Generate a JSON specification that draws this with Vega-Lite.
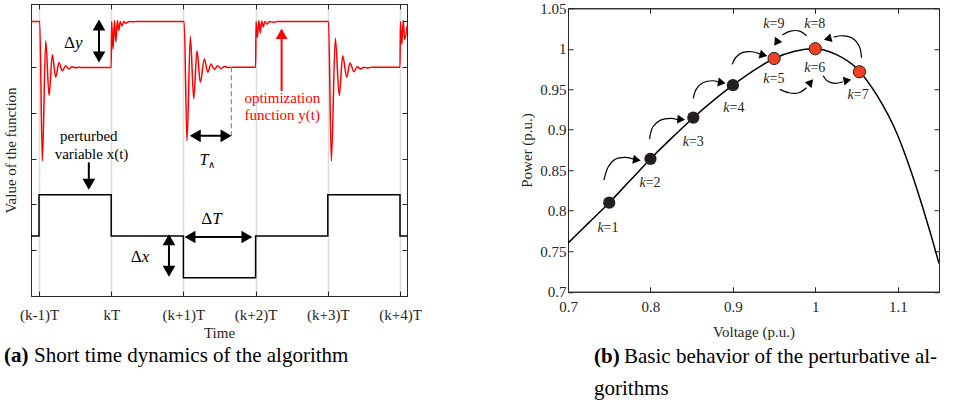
{
 "$schema": "https://vega.github.io/schema/vega-lite/v6.json",
 "padding": {"left": 3, "top": 0, "right": 5, "bottom": 5},
 "background": "white",
 "spacing": 161,
 "bounds": "flush",
 "center": true,
 "config": {
  "font": "Liberation Serif",
  "view": {"stroke": "#262626", "strokeWidth": 1},
  "axis": {"domainColor": "#262626", "tickColor": "#262626", "labelColor": "#262626", "titleColor": "#262626", "labelFontSize": 15, "titleFontSize": 15, "titleFontWeight": "normal", "labelFont": "Liberation Serif", "titleFont": "Liberation Serif", "tickSize": -5, "grid": false, "domainWidth": 1, "labelFlush": false}
 },
 "datasets": {
  "redL": [
   {"t": -0.111, "v": 6.0}, {"t": 0.0, "v": 6.0}, {"t": 0.01, "v": 6.0}, {"t": 0.046, "v": 2.95}, {"t": 0.093, "v": 5.58}, {"t": 0.139, "v": 4.38}, {"t": 0.184, "v": 5.27}, {"t": 0.231, "v": 4.78}, {"t": 0.277, "v": 5.10}, {"t": 0.323, "v": 4.92}, {"t": 0.37, "v": 5.03}, {"t": 0.416, "v": 4.96}, {"t": 0.46, "v": 5.01}, {"t": 0.505, "v": 4.985}, {"t": 0.55, "v": 5.0}, {"t": 0.6, "v": 4.99}, {"t": 1.0, "v": 4.99},
   {"t": 1.006, "v": 6.0}, {"t": 1.025, "v": 5.4}, {"t": 1.045, "v": 6.02}, {"t": 1.065, "v": 5.55}, {"t": 1.085, "v": 6.02}, {"t": 1.105, "v": 5.8}, {"t": 1.125, "v": 6.0}, {"t": 1.15, "v": 5.9}, {"t": 1.175, "v": 6.0}, {"t": 1.2, "v": 5.96}, {"t": 1.25, "v": 6.0}, {"t": 1.3, "v": 5.99}, {"t": 1.35, "v": 6.0}, {"t": 2.01, "v": 6.0},
   {"t": 2.05, "v": 3.39}, {"t": 2.096, "v": 5.67}, {"t": 2.143, "v": 4.31}, {"t": 2.188, "v": 5.36}, {"t": 2.234, "v": 4.67}, {"t": 2.29, "v": 5.18}, {"t": 2.337, "v": 4.89}, {"t": 2.382, "v": 5.07}, {"t": 2.428, "v": 4.95}, {"t": 2.475, "v": 5.03}, {"t": 2.52, "v": 4.97}, {"t": 2.57, "v": 5.015}, {"t": 2.62, "v": 4.99}, {"t": 2.665, "v": 5.0}, {"t": 3.0, "v": 5.0},
   {"t": 3.006, "v": 6.0}, {"t": 3.025, "v": 5.65}, {"t": 3.045, "v": 6.02}, {"t": 3.065, "v": 5.75}, {"t": 3.085, "v": 6.01}, {"t": 3.105, "v": 5.88}, {"t": 3.13, "v": 6.0}, {"t": 3.16, "v": 5.94}, {"t": 3.19, "v": 6.0}, {"t": 3.25, "v": 5.98}, {"t": 3.3, "v": 6.0}, {"t": 4.01, "v": 6.0},
   {"t": 4.049, "v": 2.95}, {"t": 4.104, "v": 5.63}, {"t": 4.159, "v": 4.38}, {"t": 4.206, "v": 5.25}, {"t": 4.262, "v": 4.78}, {"t": 4.307, "v": 5.09}, {"t": 4.363, "v": 4.90}, {"t": 4.407, "v": 5.01}, {"t": 4.455, "v": 4.96}, {"t": 4.5, "v": 5.0}, {"t": 4.55, "v": 4.98}, {"t": 4.6, "v": 5.0}, {"t": 5.0, "v": 5.0},
   {"t": 5.006, "v": 6.0}, {"t": 5.025, "v": 5.5}, {"t": 5.045, "v": 6.02}, {"t": 5.065, "v": 5.6}, {"t": 5.097, "v": 5.9}
  ],
  "blackL": [
   {"t": -0.111, "v": 1.31}, {"t": 0, "v": 2.21}, {"t": 1, "v": 1.31}, {"t": 2, "v": 0.40}, {"t": 3, "v": 1.31}, {"t": 4, "v": 2.21}, {"t": 5, "v": 1.31}, {"t": 5.097, "v": 1.31}
  ],
  "dashL": [{"t": 2.665, "v": 5.0, "v2": 3.44}],
  "shaftsL": [
   {"name": "dy", "t": 0.831, "v": 5.14, "t2": 0.831, "v2": 6.0},
   {"name": "dx", "t": 1.80, "v": 0.46, "t2": 1.80, "v2": 1.31},
   {"name": "dT", "t": 2.04, "v": 1.29, "t2": 2.93, "v2": 1.29},
   {"name": "Tc", "t": 2.115, "v": 3.5, "t2": 2.641, "v2": 3.5},
   {"name": "pert", "t": 0.69, "v": 2.36, "t2": 0.69, "v2": 2.92},
   {"name": "opt", "t": 3.36, "v": 4.48, "t2": 3.36, "v2": 5.81}
  ],
  "headsL": [
   {"name": "dy", "t": 0.831, "v": 5.88, "heading": 0},
   {"name": "dy", "t": 0.831, "v": 5.26, "heading": 180},
   {"name": "dx", "t": 1.80, "v": 1.19, "heading": 0},
   {"name": "dx", "t": 1.80, "v": 0.58, "heading": 180},
   {"name": "dT", "t": 2.116, "v": 1.29, "heading": 270},
   {"name": "dT", "t": 2.854, "v": 1.29, "heading": 90},
   {"name": "Tc", "t": 2.19, "v": 3.5, "heading": 270},
   {"name": "Tc", "t": 2.565, "v": 3.5, "heading": 90},
   {"name": "pert", "t": 0.69, "v": 2.48, "heading": 180},
   {"name": "opt", "t": 3.36, "v": 5.69, "heading": 0}
  ],
  "deltaL": [
   {"t": 0.499, "v": 5.52, "ch": "y"},
   {"t": 1.422, "v": 0.86, "ch": "x"},
   {"t": 2.40, "v": 1.69, "ch": "T"}
  ],
  "textL": [
   {"t": 0.69, "v": 3.5, "txt": "perturbed"},
   {"t": 0.727, "v": 3.11, "txt": "variable x(t)"}
  ],
  "textRed": [
   {"t": 3.37, "v": 4.32, "txt": "optimization"},
   {"t": 3.37, "v": 3.95, "txt": "function y(t)"}
  ],
  "tcL": [{"t": 2.285, "v": 2.97, "t2": 2.385, "v2": 2.87}],
  "capA": [{"t": -0.485, "v": -1.31, "t2": -0.069, "bold": "(a)", "txt": "Short time dynamics of the algorithm"}],
  "curve": [
   {"V": 0.70, "P": 0.760}, {"V": 0.725, "P": 0.785}, {"V": 0.75, "P": 0.810}, {"V": 0.775, "P": 0.837}, {"V": 0.80, "P": 0.864}, {"V": 0.825, "P": 0.889}, {"V": 0.85, "P": 0.913}, {"V": 0.875, "P": 0.935}, {"V": 0.90, "P": 0.955}, {"V": 0.925, "P": 0.973}, {"V": 0.95, "P": 0.988}, {"V": 0.975, "P": 0.997}, {"V": 1.00, "P": 1.000}, {"V": 1.025, "P": 0.993}, {"V": 1.05, "P": 0.976}, {"V": 1.075, "P": 0.942}, {"V": 1.10, "P": 0.893}, {"V": 1.115, "P": 0.852}, {"V": 1.13, "P": 0.805}, {"V": 1.14, "P": 0.771}, {"V": 1.15, "P": 0.735}
  ],
  "pts": [
   {"k": 1, "V": 0.75, "P": 0.81, "grp": "black"},
   {"k": 2, "V": 0.80, "P": 0.864, "grp": "black"},
   {"k": 3, "V": 0.852, "P": 0.915, "grp": "black"},
   {"k": 4, "V": 0.90, "P": 0.955, "grp": "black"},
   {"k": 5, "V": 0.95, "P": 0.988, "grp": "red"},
   {"k": 6, "V": 1.0, "P": 1.0, "grp": "red"},
   {"k": 7, "V": 1.0535, "P": 0.9716, "grp": "red"}
  ],
  "klab": [
   {"V": 0.7432, "P": 0.7782, "num": "=1"},
   {"V": 0.7942, "P": 0.8337, "num": "=2"},
   {"V": 0.8467, "P": 0.8852, "num": "=3"},
   {"V": 0.896, "P": 0.9263, "num": "=4"},
   {"V": 0.9445, "P": 0.9626, "num": "=5"},
   {"V": 0.9941, "P": 0.9757, "num": "=6"},
   {"V": 1.0467, "P": 0.9428, "num": "=7"},
   {"V": 0.9941, "P": 1.030, "num": "=8"},
   {"V": 0.9445, "P": 1.030, "num": "=9"}
  ],
  "arcs": [
   {"id": 1, "i": 0, "V": 0.7436, "P": 0.8379}, {"id": 1, "i": 1, "V": 0.7489, "P": 0.8543}, {"id": 1, "i": 2, "V": 0.7578, "P": 0.8638}, {"id": 1, "i": 3, "V": 0.7699, "P": 0.8658}, {"id": 1, "i": 4, "V": 0.78, "P": 0.8638},
   {"id": 2, "i": 0, "V": 0.799, "P": 0.8885}, {"id": 2, "i": 1, "V": 0.803, "P": 0.9037}, {"id": 2, "i": 2, "V": 0.8123, "P": 0.9119}, {"id": 2, "i": 3, "V": 0.8244, "P": 0.9140}, {"id": 2, "i": 4, "V": 0.8337, "P": 0.9123},
   {"id": 3, "i": 0, "V": 0.8519, "P": 0.9387}, {"id": 3, "i": 1, "V": 0.8556, "P": 0.9502}, {"id": 3, "i": 2, "V": 0.8636, "P": 0.9580}, {"id": 3, "i": 3, "V": 0.875, "P": 0.9605}, {"id": 3, "i": 4, "V": 0.883, "P": 0.9588},
   {"id": 4, "i": 0, "V": 0.8992, "P": 0.9807}, {"id": 4, "i": 1, "V": 0.9032, "P": 0.9889}, {"id": 4, "i": 2, "V": 0.9121, "P": 0.9955}, {"id": 4, "i": 3, "V": 0.9234, "P": 0.9963}, {"id": 4, "i": 4, "V": 0.9335, "P": 0.9934},
   {"id": 5, "i": 0, "V": 0.957, "P": 0.9498}, {"id": 5, "i": 1, "V": 0.9679, "P": 0.9457}, {"id": 5, "i": 2, "V": 0.98, "P": 0.9457}, {"id": 5, "i": 3, "V": 0.9893, "P": 0.9519},
   {"id": 6, "i": 0, "V": 1.0095, "P": 0.9667}, {"id": 6, "i": 1, "V": 1.0143, "P": 0.9605}, {"id": 6, "i": 2, "V": 1.0236, "P": 0.9572}, {"id": 6, "i": 3, "V": 1.0333, "P": 0.9593},
   {"id": 7, "i": 0, "V": 1.056, "P": 0.9889}, {"id": 7, "i": 1, "V": 1.0535, "P": 1.0025}, {"id": 7, "i": 2, "V": 1.0455, "P": 1.0128}, {"id": 7, "i": 3, "V": 1.0333, "P": 1.0160}, {"id": 7, "i": 4, "V": 1.0224, "P": 1.0144},
   {"id": 8, "i": 0, "V": 0.9893, "P": 1.0160}, {"id": 8, "i": 1, "V": 0.9808, "P": 1.0218}, {"id": 8, "i": 2, "V": 0.9699, "P": 1.0218}, {"id": 8, "i": 3, "V": 0.9598, "P": 1.0169}
  ],
  "headsR": [
   {"V": 0.782, "P": 0.863, "heading": 100},
   {"V": 0.8358, "P": 0.9128, "heading": 95},
   {"V": 0.885, "P": 0.9584, "heading": 100},
   {"V": 0.9356, "P": 0.9926, "heading": 105},
   {"V": 0.9933, "P": 0.9576, "heading": 40},
   {"V": 1.0374, "P": 0.9605, "heading": 80},
   {"V": 1.0164, "P": 1.0128, "heading": 255},
   {"V": 0.9537, "P": 1.009, "heading": 215}
  ],
  "capB": [
   {"V": 0.7315, "P": 0.6198, "V2": 0.7679, "bold": "(b)", "txt": "Basic behavior of the perturbative al-"},
   {"V": 0.7315, "P": 0.5803, "V2": 0.7315, "bold": "", "txt": "gorithms"}
  ]
 },
 "hconcat": [
  {
   "width": 376, "height": 292,
   "resolve": {"axis": {"x": "independent", "y": "independent"}},
   "layer": [
    {
     "layer": [
      {
       "data": {"name": "blackL"},
       "mark": {"type": "line", "interpolate": "step-after", "color": "#000000", "strokeWidth": 1.5},
       "encoding": {
        "x": {"field": "t", "type": "quantitative", "scale": {"domain": [-0.111, 5.097], "nice": false, "zero": false},
              "axis": {"values": [0, 1, 2, 3, 4, 5], "labelExpr": "['(k-1)T','kT','(k+1)T','(k+2)T','(k+3)T','(k+4)T'][datum.value]", "grid": true, "gridColor": "#dcdcdc", "gridWidth": 1.5, "title": "Time", "labelPadding": 16, "titlePadding": 3}},
        "y": {"field": "v", "type": "quantitative", "scale": {"domain": [0, 6.38], "nice": false, "zero": false},
              "axis": {"values": [0, 1, 2, 3, 4, 5, 6], "labels": false, "title": "Value of the function", "titlePadding": 12}}
       }
      },
      {
       "data": {"name": "redL"},
       "mark": {"type": "line", "interpolate": "monotone", "color": "#ff0000", "strokeWidth": 1.5},
       "encoding": {"x": {"field": "t", "type": "quantitative"}, "y": {"field": "v", "type": "quantitative"}}
      },
      {
       "data": {"name": "dashL"},
       "mark": {"type": "rule", "color": "#8c8c8c", "strokeDash": [5, 3], "strokeWidth": 1.2},
       "encoding": {"x": {"field": "t", "type": "quantitative"}, "y": {"field": "v", "type": "quantitative"}, "y2": {"field": "v2"}}
      },
      {
       "data": {"name": "shaftsL"},
       "transform": [{"filter": "datum.name != 'opt'"}],
       "mark": {"type": "rule", "color": "#000000", "strokeWidth": 2},
       "encoding": {"x": {"field": "t", "type": "quantitative"}, "y": {"field": "v", "type": "quantitative"}, "x2": {"field": "t2"}, "y2": {"field": "v2"}}
      },
      {
       "data": {"name": "shaftsL"},
       "transform": [{"filter": "datum.name == 'opt'"}],
       "mark": {"type": "rule", "color": "#ff0000", "strokeWidth": 2},
       "encoding": {"x": {"field": "t", "type": "quantitative"}, "y": {"field": "v", "type": "quantitative"}, "x2": {"field": "t2"}, "y2": {"field": "v2"}}
      },
      {
       "data": {"name": "headsL"},
       "transform": [{"filter": "datum.name != 'opt'"}],
       "mark": {"type": "point", "shape": "triangle", "filled": true, "size": 160, "color": "#000000", "opacity": 1},
       "encoding": {"x": {"field": "t", "type": "quantitative"}, "y": {"field": "v", "type": "quantitative"}, "angle": {"field": "heading", "type": "quantitative", "scale": null}}
      },
      {
       "data": {"name": "headsL"},
       "transform": [{"filter": "datum.name == 'opt'"}],
       "mark": {"type": "point", "shape": "triangle", "filled": true, "size": 140, "color": "#ff0000", "opacity": 1},
       "encoding": {"x": {"field": "t", "type": "quantitative"}, "y": {"field": "v", "type": "quantitative"}, "angle": {"field": "heading", "type": "quantitative", "scale": null}}
      },
      {
       "data": {"name": "deltaL"},
       "mark": {"type": "text", "align": "right", "baseline": "middle", "fontSize": 17, "color": "#000000"},
       "encoding": {"x": {"field": "t", "type": "quantitative"}, "y": {"field": "v", "type": "quantitative"}, "text": {"value": "Δ"}}
      },
      {
       "data": {"name": "deltaL"},
       "mark": {"type": "text", "align": "left", "baseline": "middle", "fontSize": 17, "fontStyle": "italic", "color": "#000000"},
       "encoding": {"x": {"field": "t", "type": "quantitative"}, "y": {"field": "v", "type": "quantitative"}, "text": {"field": "ch"}}
      },
      {
       "data": {"name": "textL"},
       "mark": {"type": "text", "align": "center", "baseline": "middle", "fontSize": 15, "color": "#000000"},
       "encoding": {"x": {"field": "t", "type": "quantitative"}, "y": {"field": "v", "type": "quantitative"}, "text": {"field": "txt"}}
      },
      {
       "data": {"name": "textRed"},
       "mark": {"type": "text", "align": "center", "baseline": "middle", "fontSize": 15, "color": "#ff0000"},
       "encoding": {"x": {"field": "t", "type": "quantitative"}, "y": {"field": "v", "type": "quantitative"}, "text": {"field": "txt"}}
      },
      {
       "data": {"name": "tcL"},
       "mark": {"type": "text", "align": "center", "baseline": "middle", "fontSize": 16, "fontStyle": "italic", "color": "#000000"},
       "encoding": {"x": {"field": "t", "type": "quantitative"}, "y": {"field": "v", "type": "quantitative"}, "text": {"value": "T"}}
      },
      {
       "data": {"name": "tcL"},
       "mark": {"type": "text", "align": "center", "baseline": "middle", "fontSize": 10, "color": "#000000"},
       "encoding": {"x": {"field": "t2", "type": "quantitative"}, "y": {"field": "v2", "type": "quantitative"}, "text": {"value": "∧"}}
      },
      {
       "data": {"name": "capA"},
       "mark": {"type": "text", "align": "left", "baseline": "middle", "fontSize": 21, "fontWeight": "bold", "color": "#000000"},
       "encoding": {"x": {"field": "t", "type": "quantitative"}, "y": {"field": "v", "type": "quantitative"}, "text": {"field": "bold"}}
      },
      {
       "data": {"name": "capA"},
       "mark": {"type": "text", "align": "left", "baseline": "middle", "fontSize": 21, "color": "#000000"},
       "encoding": {"x": {"field": "t2", "type": "quantitative"}, "y": {"field": "v", "type": "quantitative"}, "text": {"field": "txt"}}
      }
     ]
    },
    {
     "data": {"name": "blackL"},
     "mark": {"type": "point", "opacity": 0},
     "encoding": {
      "x": {"field": "t", "type": "quantitative", "scale": {"domain": [-0.111, 5.097], "nice": false, "zero": false}, "axis": {"orient": "top", "values": [0, 1, 2, 3, 4, 5], "labels": false, "title": null}},
      "y": {"field": "v", "type": "quantitative", "scale": {"domain": [0, 6.38], "nice": false, "zero": false}, "axis": {"orient": "right", "values": [0, 1, 2, 3, 4, 5, 6], "labels": false, "title": null}}
     }
    }
   ]
  },
  {
   "width": 371, "height": 283.5,
   "resolve": {"axis": {"x": "independent", "y": "independent"}},
   "layer": [
    {
     "layer": [
      {
       "data": {"name": "curve"},
       "mark": {"type": "line", "interpolate": "monotone", "color": "#000000", "strokeWidth": 1.5, "clip": true},
       "encoding": {
        "x": {"field": "V", "type": "quantitative", "scale": {"domain": [0.7, 1.15], "nice": false, "zero": false},
              "axis": {"values": [0.7, 0.8, 0.9, 1, 1.1], "format": "~g", "title": "Voltage (p.u.)", "labelPadding": 13, "titlePadding": 10}},
        "y": {"field": "P", "type": "quantitative", "scale": {"domain": [0.7, 1.05], "nice": false, "zero": false},
              "axis": {"values": [0.7, 0.75, 0.8, 0.85, 0.9, 0.95, 1, 1.05], "format": "~g", "title": "Power (p.u.)", "labelPadding": 7, "titlePadding": 5}}
       }
      },
      {
       "data": {"name": "arcs"},
       "mark": {"type": "line", "interpolate": "catmull-rom", "color": "#000000", "strokeWidth": 1.2},
       "encoding": {"x": {"field": "V", "type": "quantitative"}, "y": {"field": "P", "type": "quantitative"}, "detail": {"field": "id", "type": "nominal"}, "order": {"field": "i", "type": "quantitative"}}
      },
      {
       "data": {"name": "headsR"},
       "mark": {"type": "point", "shape": "triangle", "filled": true, "size": 80, "color": "#000000", "opacity": 1},
       "encoding": {"x": {"field": "V", "type": "quantitative"}, "y": {"field": "P", "type": "quantitative"}, "angle": {"field": "heading", "type": "quantitative", "scale": null}}
      },
      {
       "data": {"name": "pts"},
       "transform": [{"filter": "datum.grp == 'black'"}],
       "mark": {"type": "circle", "size": 150, "color": "#231f20", "opacity": 1},
       "encoding": {"x": {"field": "V", "type": "quantitative"}, "y": {"field": "P", "type": "quantitative"}}
      },
      {
       "data": {"name": "pts"},
       "transform": [{"filter": "datum.grp == 'red'"}],
       "mark": {"type": "circle", "size": 150, "fill": "#ee4123", "stroke": "#231f20", "strokeWidth": 1, "opacity": 1, "fillOpacity": 1},
       "encoding": {"x": {"field": "V", "type": "quantitative"}, "y": {"field": "P", "type": "quantitative"}}
      },
      {
       "data": {"name": "klab"},
       "mark": {"type": "text", "align": "right", "baseline": "middle", "fontSize": 14, "fontStyle": "italic", "color": "#231f20"},
       "encoding": {"x": {"field": "V", "type": "quantitative"}, "y": {"field": "P", "type": "quantitative"}, "text": {"value": "k"}}
      },
      {
       "data": {"name": "klab"},
       "mark": {"type": "text", "align": "left", "baseline": "middle", "fontSize": 14, "color": "#231f20"},
       "encoding": {"x": {"field": "V", "type": "quantitative"}, "y": {"field": "P", "type": "quantitative"}, "text": {"field": "num"}}
      },
      {
       "data": {"name": "capB"},
       "mark": {"type": "text", "align": "left", "baseline": "middle", "fontSize": 21, "fontWeight": "bold", "color": "#000000"},
       "encoding": {"x": {"field": "V", "type": "quantitative"}, "y": {"field": "P", "type": "quantitative"}, "text": {"field": "bold"}}
      },
      {
       "data": {"name": "capB"},
       "mark": {"type": "text", "align": "left", "baseline": "middle", "fontSize": 21, "color": "#000000"},
       "encoding": {"x": {"field": "V2", "type": "quantitative"}, "y": {"field": "P", "type": "quantitative"}, "text": {"field": "txt"}}
      }
     ]
    },
    {
     "data": {"name": "curve"},
     "mark": {"type": "point", "opacity": 0},
     "encoding": {
      "x": {"field": "V", "type": "quantitative", "scale": {"domain": [0.7, 1.15], "nice": false, "zero": false}, "axis": {"orient": "top", "values": [0.7, 0.8, 0.9, 1, 1.1], "labels": false, "title": null}},
      "y": {"field": "P", "type": "quantitative", "scale": {"domain": [0.7, 1.05], "nice": false, "zero": false}, "axis": {"orient": "right", "values": [0.7, 0.75, 0.8, 0.85, 0.9, 0.95, 1, 1.05], "labels": false, "title": null}}
     }
    }
   ]
  }
 ]
}
